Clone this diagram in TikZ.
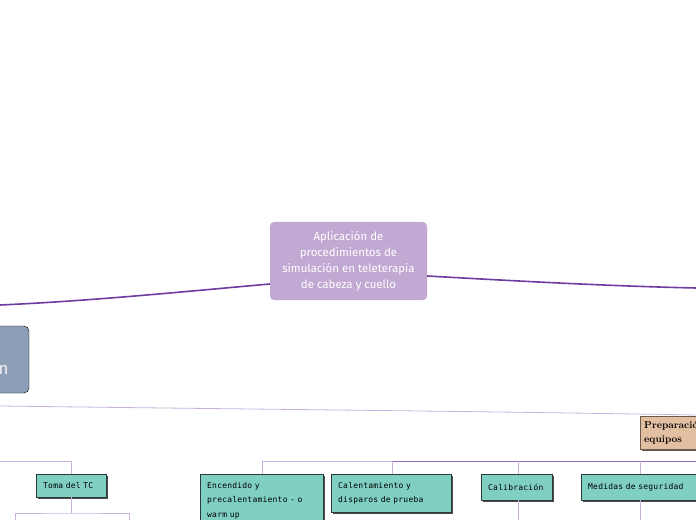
\documentclass[tikz,border=0pt]{standalone}
\usepackage{fontspec}
\newfontfamily\mapsans{Fira Sans}
\newfontfamily\mapmono[LetterSpace=3]{DejaVu Sans Mono}
\usetikzlibrary{positioning,shapes,shadows}

\definecolor{rootlilac}{HTML}{C1A9D3}
\definecolor{branchpurple}{HTML}{6E3B9E}
\definecolor{thinlilac}{HTML}{C9B2DD}
\definecolor{buspurple}{HTML}{8F6CBC}
\definecolor{slateblue}{HTML}{8D9FB7}
\definecolor{tanfill}{HTML}{E3BFA1}
\definecolor{tanline}{HTML}{6B5A4B}
\definecolor{leafteal}{HTML}{7FCFC2}
\definecolor{leafline}{HTML}{2C3B39}

\begin{document}
\begin{tikzpicture}[x=1bp,y=-1bp,
  root/.style={rounded corners=4bp,fill=rootlilac,text=white,align=center,
    font=\mapsans\fontsize{11.5}{16}\selectfont,minimum width=157bp,minimum height=78bp,inner sep=0pt},
  mainbranch/.style={draw=branchpurple,line width=1.6bp},
  twig/.style={draw=thinlilac,line width=0.8bp},
  bus/.style={draw=buspurple,line width=0.9bp},
  sidebox/.style={rounded corners=5bp,fill=slateblue},
  topicbox/.style={draw=tanline,fill=tanfill,anchor=north west,align=left,
    font=\rmfamily\bfseries\fontsize{10}{14}\selectfont,inner xsep=4bp,inner ysep=5bp,
    drop shadow={shadow xshift=2bp,shadow yshift=-2bp,fill=black!65,opacity=1}},
  leafbox/.style={draw=leafline,fill=leafteal,anchor=north west,align=left,
    font=\mapmono\fontsize{8}{14.5}\selectfont,inner xsep=7bp,inner ysep=8bp,
    drop shadow={shadow xshift=2bp,shadow yshift=-2bp,fill=black!70,opacity=1}}]
\useasboundingbox (0,0) rectangle (696,520);
\clip (0,0) rectangle (696,520);

% centre and the two main branches
\node[root] (app) at (348.5,261) {Aplicación de\\procedimientos de\\simulación en teleterapia\\de cabeza y cuello};
\coordinate (westend) at (0,305);
\coordinate (eastend) at (696,288);
\draw[mainbranch] ([yshift=-23bp]app.west) .. controls (180,292) and (90,301) .. (westend);
\draw[mainbranch] ([yshift=-15bp]app.east) .. controls (517,281) and (606,286) .. (eastend);

% left topic, only its end shows
\draw[sidebox] (-60,326) rectangle (29,393);
\node[text=white!94!black,font=\mapsans\fontsize{17}{17}\selectfont,inner sep=0pt] (plan) at (3.5,370) {n};

% thin branch to the right
\coordinate (thinwest) at (0,406);
\coordinate (thineast) at (696,415);
\draw[twig] (thinwest) .. controls (232,409) and (464,411) .. (thineast);

% Preparación de equipos
\node[topicbox,text width=120bp] (prep) at (640,416) {Preparación de\\equipos};

% its children
\node[leafbox,text width=109bp] (warm) at (200,474) {Encendido y\\precalentamiento - o\\warm up};
\node[leafbox,text width=106bp] (heat) at (331,474) {Calentamiento y\\disparos de prueba};
\node[leafbox,text width=57bp,minimum height=26bp,inner ysep=5bp] (calib) at (481,474) {Calibración};
\node[leafbox,text width=120bp,minimum height=26bp,inner ysep=5bp] (safe) at (581,474) {Medidas de seguridad};
\coordinate (busmid) at (392,461);
\coordinate (buseast) at (696,461);
\draw[twig] (warm.north -| 262,0) |- (busmid);
\draw[bus] (busmid) -- (buseast);
\draw[twig] (heat.north -| busmid) -- (busmid);
\draw[twig] (calib.north -| 518,0) -- (518,461);
\draw[twig] (safe.north -| 640,0) -- (640,461);
\draw[twig] (calib.south -| 518,0) -- (518,520);
\draw[twig] (safe.south -| 640,0) -- (640,520);

% Toma del TC
\node[leafbox,text width=56bp,minimum height=23bp,inner ysep=4bp] (ct) at (36,474) {Toma del TC};
\coordinate (ctwest) at (0,461);
\draw[twig] (ct.north -| 71,0) |- (ctwest);
\coordinate (ctfork) at (71,513);
\draw[twig] (ct.south -| 71,0) -- (ctfork);
\draw[twig] (15,520) |- (ctfork) -| (129,520);
\end{tikzpicture}
\end{document}
